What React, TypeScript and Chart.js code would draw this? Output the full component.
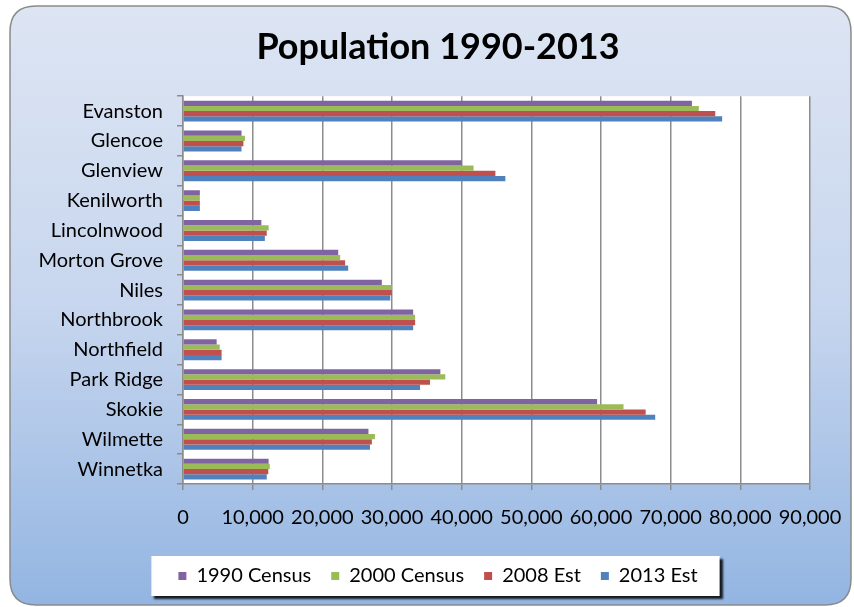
import React, { useEffect, useRef } from 'react';
import { Chart, registerables } from 'chart.js';

Chart.register(...registerables);

const categories = ['Evanston', 'Glencoe', 'Glenview', 'Kenilworth', 'Lincolnwood', 'Morton Grove', 'Niles', 'Northbrook', 'Northfield', 'Park Ridge', 'Skokie', 'Wilmette', 'Winnetka'];
const census1990 = [73050, 8400, 40010, 2420, 11250, 22280, 28540, 33040, 4830, 36940, 59440, 26620, 12290];
const census2000 = [74040, 8890, 41710, 2420, 12290, 22560, 29970, 33320, 5270, 37650, 63230, 27550, 12460];
const est2008 = [76400, 8670, 44840, 2420, 12020, 23270, 29970, 33320, 5540, 35460, 66410, 27110, 12240];
const est2013 = [77390, 8400, 46270, 2420, 11750, 23710, 29750, 33040, 5540, 34030, 67780, 26840, 12020];
const seriesNames = ['1990 Census', '2000 Census', '2008 Est', '2013 Est'];
const seriesColors = ['#8064a2', '#9bbb59', '#c0504d', '#4f81bd'];
const xTickValues = [0, 10000, 20000, 30000, 40000, 50000, 60000, 70000, 80000, 90000];
const titleText = 'Population 1990-2013';

const FONT = 'Lato, "Open Sans", sans-serif';
const CENTER_SHIFT = 33;

const backgroundPlugin = {
  id: 'bgPlugin',
  afterLayout(chart: any) {
    const shift = (box: any) => {
      if (!box) return;
      box.left += CENTER_SHIFT;
      box.right += CENTER_SHIFT;
    };
    shift(chart.titleBlock);
    shift(chart.legend);
  },
  beforeDraw(chart: any) {
    const { ctx, chartArea } = chart;
    ctx.save();
    // outer rounded panel
    const x = 10, y = 6, w = 841, h = 599, r = 26;
    const g = ctx.createLinearGradient(0, y, 0, y + h);
    g.addColorStop(0, '#dde5f3');
    g.addColorStop(0.5, '#c7d6ee');
    g.addColorStop(1, '#93b5e2');
    ctx.beginPath();
    ctx.moveTo(x + r, y);
    ctx.lineTo(x + w - r, y);
    ctx.quadraticCurveTo(x + w, y, x + w, y + r);
    ctx.lineTo(x + w, y + h - r);
    ctx.quadraticCurveTo(x + w, y + h, x + w - r, y + h);
    ctx.lineTo(x + r, y + h);
    ctx.quadraticCurveTo(x, y + h, x, y + h - r);
    ctx.lineTo(x, y + r);
    ctx.quadraticCurveTo(x, y, x + r, y);
    ctx.closePath();
    ctx.fillStyle = g;
    ctx.fill();
    ctx.lineWidth = 1.5;
    ctx.strokeStyle = '#8a8a8a';
    ctx.stroke();
    // plot area
    ctx.fillStyle = '#ffffff';
    ctx.fillRect(chartArea.left, chartArea.top, chartArea.right - chartArea.left, chartArea.bottom - chartArea.top);
    // legend box
    const legend = chart.legend;
    const hb = legend && legend.legendHitBoxes;
    if (hb && hb.length) {
      const first = hb[0];
      const last = hb[hb.length - 1];
      const cy = first.top + first.height / 2;
      const lx = first.left - 27;
      const rx = last.left + last.width + 22;
      ctx.shadowColor = 'rgba(0,0,0,0.85)';
      ctx.shadowOffsetX = 3;
      ctx.shadowOffsetY = 3;
      ctx.shadowBlur = 2;
      ctx.fillStyle = '#ffffff';
      ctx.fillRect(lx, cy - 20, rx - lx, 40);
    }
    ctx.restore();
  },
};

export default function App() {
  const ref = useRef<HTMLCanvasElement | null>(null);
  useEffect(() => {
    if (!ref.current) return;
    const data = [census1990, census2000, est2008, est2013];
    const chart = new Chart(ref.current, {
      type: 'bar',
      data: {
        labels: categories,
        datasets: seriesNames.map((name, i) => ({
          label: name,
          data: data[i],
          backgroundColor: seriesColors[i],
          borderWidth: 0,
          barPercentage: 1,
          categoryPercentage: 0.7,
        })),
      },
      options: {
        indexAxis: 'y',
        responsive: false,
        animation: false,
        devicePixelRatio: 1,
        layout: { padding: { left: 0, right: 44, top: 0, bottom: 11 } },
        scales: {
          x: {
            min: 0,
            max: 90000,
            afterBuildTicks: (scale: any) => {
              scale.ticks = xTickValues.map((v) => ({ value: v }));
            },
            afterFit: (scale: any) => {
              scale.height = 62;
              scale.paddingLeft = 0;
              scale.paddingRight = 0;
            },
            ticks: {
              color: '#000',
              font: { family: FONT, size: 20 },
              padding: 16,
              maxRotation: 0,
              callback: (v: any) => Number(v).toLocaleString('en-US'),
            },
            grid: { color: '#8c8c8c', lineWidth: 1.5, tickLength: 6 },
            border: { color: '#8c8c8c', width: 1.5 },
          },
          y: {
            afterFit: (scale: any) => {
              scale.width = 183;
            },
            ticks: {
              color: '#000',
              font: { family: FONT, size: 20 },
              padding: 14,
            },
            grid: { drawOnChartArea: false, color: '#8c8c8c', lineWidth: 1.5, tickLength: 6, offset: true },
            border: { color: '#8c8c8c', width: 1.5 },
          },
        },
        plugins: {
          title: {
            display: true,
            text: titleText,
            color: '#000',
            font: { family: FONT, size: 36, weight: 'bold' },
            padding: { top: 26, bottom: 27 },
          },
          legend: {
            position: 'bottom',
            labels: {
              color: '#000',
              font: { family: FONT, size: 20 },
              boxWidth: 8,
              boxHeight: 8,
              padding: 20,
            },
          },
          tooltip: { enabled: false },
        },
      },
      plugins: [backgroundPlugin],
    } as any);
    return () => chart.destroy();
  }, []);
  return (
    <div style={{ position: 'absolute', left: 0, top: 0, width: 854, height: 607 }}>
      <canvas ref={ref} width={854} height={607} style={{ display: 'block' }} />
    </div>
  );
}
